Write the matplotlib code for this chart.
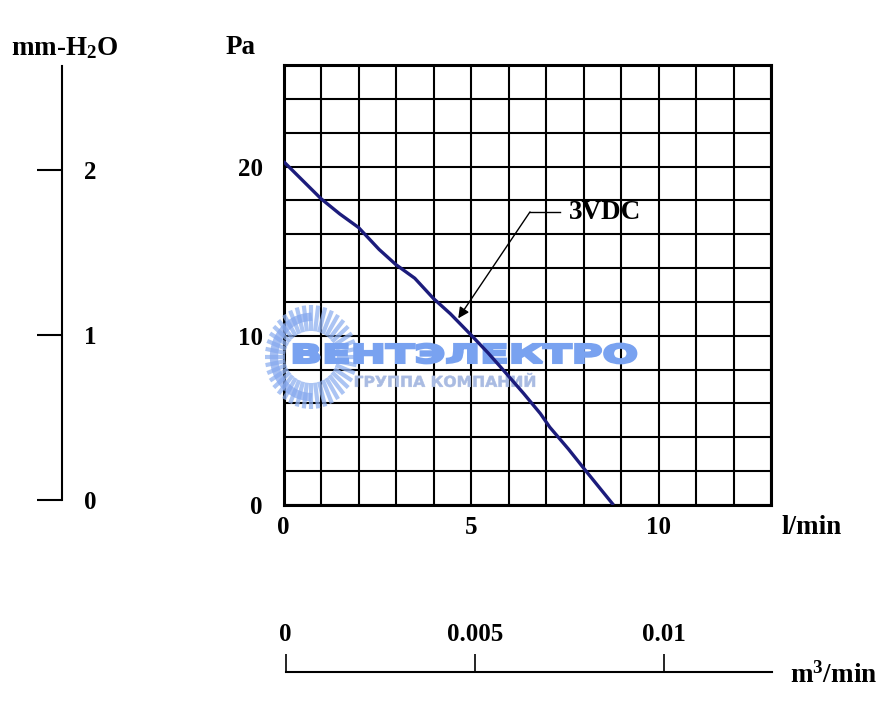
import numpy as np
import matplotlib
matplotlib.use("Agg")
import matplotlib.pyplot as plt
from matplotlib.ticker import MultipleLocator, FixedLocator
from matplotlib.textpath import TextPath
from matplotlib.patches import PathPatch
from matplotlib.font_manager import FontProperties
from matplotlib.lines import Line2D
import matplotlib.transforms as mtransforms

# --- data ---
flow_lpm = [0, 0.5, 1.0, 1.5, 2.0, 2.55, 3.0, 3.5, 4.0, 4.45, 5.0,
            5.45, 5.85, 6.4, 6.85, 7.1, 7.6, 8.05, 8.8]
pressure_pa = [20.3, 19.2, 18.1, 17.2, 16.4, 15.1, 14.2, 13.4, 12.2, 11.3, 10.05,
               9.0, 8.0, 6.6, 5.4, 4.6, 3.3, 2.05, 0.0]
curve_label = "3VDC"

lpm_ticks = [0, 5, 10]
pa_ticks = [0, 10, 20]
mmh2o_ticks = [0, 1, 2]
m3_ticks = [0, 0.005, 0.01]
m3_ticklabels = ["0", "0.005", "0.01"]

W, H = 893, 702
plt.rcParams["font.family"] = ["Liberation Serif", "DejaVu Serif"]
plt.rcParams["font.weight"] = "bold"
plt.rcParams["mathtext.fontset"] = "custom"
plt.rcParams["mathtext.rm"] = "Liberation Serif:bold"
plt.rcParams["mathtext.default"] = "rm"

fig = plt.figure(figsize=(W / 100, H / 100), dpi=100)


def fx(px):
    return px / W


def fy(py):
    return 1 - py / H


TICK_FS = 18
LABEL_FS = 19.5

# --- main grid chart ---
ax = fig.add_axes([fx(283.5), fy(505), fx(771) - fx(283.5), fy(65) - fy(505)])
ax.set_xlim(0, 13)
ax.set_ylim(0, 26)
ax.xaxis.set_major_locator(FixedLocator(lpm_ticks))
ax.yaxis.set_major_locator(FixedLocator(pa_ticks))
ax.xaxis.set_minor_locator(MultipleLocator(1))
ax.yaxis.set_minor_locator(MultipleLocator(2))
ax.grid(which="both", color="black", linewidth=1.5)
ax.set_axisbelow(True)
ax.tick_params(which="both", length=0)
ax.tick_params(axis="x", pad=8, labelsize=TICK_FS)
ax.tick_params(axis="y", pad=15, labelsize=TICK_FS)
for s in ax.spines.values():
    s.set_linewidth(2.2)

ax.plot(flow_lpm, pressure_pa, color="#1c1c7c", linewidth=2.4, zorder=5,
        solid_capstyle="butt")

# callout
ax.plot([6.573, 7.373], [17.32, 17.32], color="black", linewidth=1, zorder=6)
ax.annotate("", xy=(4.66, 11.03), xytext=(6.573, 17.32),
            arrowprops=dict(arrowstyle="-|>", color="black", lw=1,
                            mutation_scale=16, shrinkA=0, shrinkB=0), zorder=6)
ax.text(7.62, 17.3, curve_label, fontsize=LABEL_FS, fontweight="bold",
        va="center", ha="left", zorder=6)

fig.text(fx(241), fy(48), "Pa", fontsize=LABEL_FS, ha="center", va="center")
fig.text(fx(812), fy(527), "l/min", fontsize=LABEL_FS, ha="center", va="center")

# --- left mm-H2O scale ---
axl = fig.add_axes([fx(61.7), fy(500), 0.0001, fy(66) - fy(500)])
axl.set_ylim(0, 2.63)
axl.set_xticks([])
axl.yaxis.set_major_locator(FixedLocator(mmh2o_ticks))
for k in ("top", "right", "bottom"):
    axl.spines[k].set_visible(False)
axl.spines["left"].set_linewidth(1.5)
axl.patch.set_visible(False)
axl.tick_params(axis="y", length=18, width=1.5, direction="out", left=True,
                right=False, labelleft=False, labelright=True, pad=-2,
                labelsize=TICK_FS)
fig.text(fx(65), fy(48), "mm-H$_2$O", fontsize=LABEL_FS, ha="center", va="center")

# --- bottom m3/min scale ---
axb = fig.add_axes([fx(285.7), fy(671.7) - 0.0001, fx(771.7) - fx(285.7), 0.0001])
axb.set_xlim(0, 0.012847)
axb.set_yticks([])
axb.xaxis.set_major_locator(FixedLocator(m3_ticks))
axb.set_xticklabels(m3_ticklabels)
for k in ("left", "right", "bottom"):
    axb.spines[k].set_visible(False)
axb.spines["top"].set_linewidth(1.5)
axb.patch.set_visible(False)
axb.tick_params(axis="x", length=12.7, width=1.2, direction="out", top=True,
                bottom=False, labeltop=True, labelbottom=False, pad=6,
                labelsize=TICK_FS)
fig.text(fx(834), fy(675), "m$^3$/min", fontsize=LABEL_FS, ha="center", va="center")

# --- watermark (under the curve, over the grid) ---
px2fig = mtransforms.Affine2D().scale(1 / W, 1 / H) + fig.transFigure


def stretched(s, x0, x1, top, bottom, color, edge):
    tp = TextPath((0, 0), s, size=100,
                  prop=FontProperties(family="DejaVu Sans", weight="bold"))
    ext = tp.get_extents()
    sx = (x1 - x0) / ext.width
    sy = (bottom - top) / ext.height
    tr = (mtransforms.Affine2D().translate(-ext.x0, -ext.y0).scale(sx, sy)
          .translate(x0, H - bottom) + px2fig)
    ax.add_artist(PathPatch(tp, transform=tr, fc=color, ec=color, lw=edge,
                            zorder=4, clip_on=False))


cx, cy = 311, H - 357
for a in np.linspace(0, 2 * np.pi, 40, endpoint=False):
    ax.add_artist(Line2D([cx + 26 * np.cos(a), cx + 46 * np.cos(a)],
                         [cy + 26 * np.sin(a), cy + 52 * np.sin(a)],
                         transform=px2fig, color="#8fb0f0", lw=3,
                         alpha=0.75, zorder=4, solid_capstyle="butt",
                         clip_on=False))
t = np.linspace(np.radians(95), np.radians(265), 60)
ax.add_artist(Line2D(cx + 37 * np.cos(t), cy + 40 * np.sin(t), transform=px2fig,
                     color="#86a8ee", lw=6, alpha=0.75, zorder=4, clip_on=False))

stretched("ВЕНТЭЛЕКТРО", 294, 636, 344, 363, "#79a2f0", 2.0)
stretched("ГРУППА КОМПАНИЙ", 355, 535, 373, 387, "#a9bbe2", 0.4)

fig.savefig("out.png", dpi=100)
